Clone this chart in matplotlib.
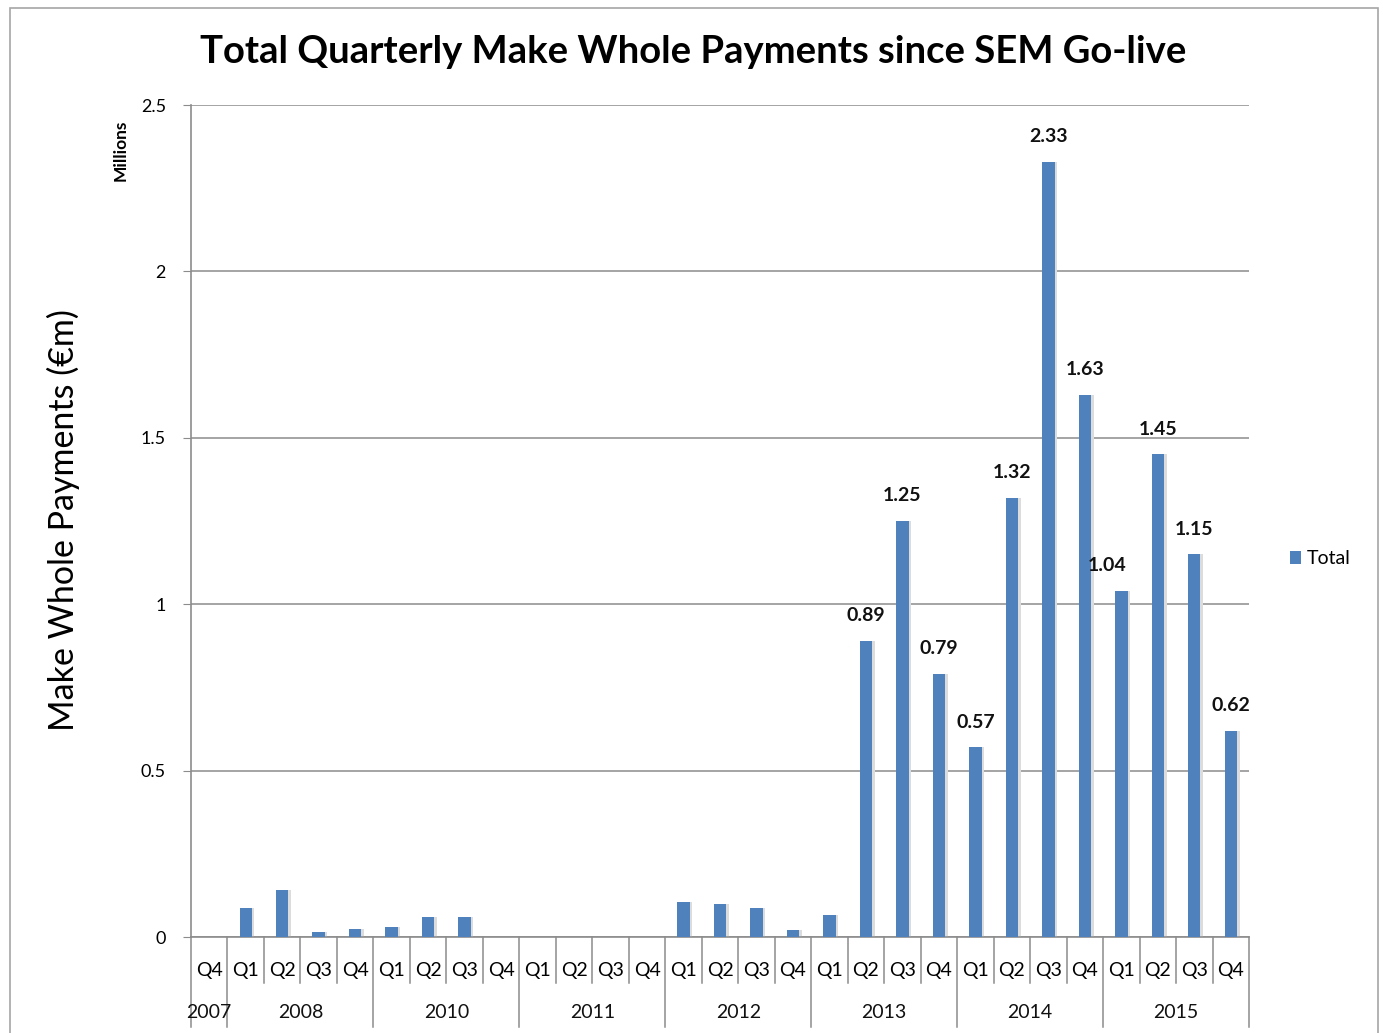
import matplotlib.pyplot as plt
from matplotlib.patches import Rectangle
import matplotlib.transforms as mtransforms

plt.rcParams['font.family'] = ['Lato', 'DejaVu Sans']

quarters = ['Q4',
            'Q1', 'Q2', 'Q3', 'Q4',
            'Q1', 'Q2', 'Q3', 'Q4',
            'Q1', 'Q2', 'Q3', 'Q4',
            'Q1', 'Q2', 'Q3', 'Q4',
            'Q1', 'Q2', 'Q3', 'Q4',
            'Q1', 'Q2', 'Q3', 'Q4',
            'Q1', 'Q2', 'Q3', 'Q4']
years = ['2007', '2008', '2010', '2011', '2012', '2013', '2014', '2015']
year_sizes = [1, 4, 4, 4, 4, 4, 4, 4]
payments = [0.0,
            0.088, 0.141, 0.014, 0.025,
            0.029, 0.061, 0.061, 0.0,
            0.0, 0.0, 0.0, 0.0,
            0.104, 0.099, 0.088, 0.020,
            0.067, 0.89, 1.25, 0.79,
            0.57, 1.32, 2.33, 1.63,
            1.04, 1.45, 1.15, 0.62]

W, H = 1383, 1033
fig = plt.figure(figsize=(W / 100, H / 100), dpi=100)
ax = fig.add_axes([191 / W, 1 - 937 / H, (1249 - 191) / W, (937 - 105) / H])

fig.patches.append(Rectangle((10 / W, -0.01), (1378 - 10) / W, 1 - 8 / H + 0.01,
                             transform=fig.transFigure, fill=False,
                             edgecolor='#a6a6a6', linewidth=1.2))

x = list(range(len(payments)))
ax.bar([i + 0.07 for i in x], payments, width=0.34, color='#dcdcdc', zorder=2)
bars = ax.bar(x, payments, width=0.34, color='#4f81bd', zorder=3)

for i, v in enumerate(payments):
    if v >= 0.5:
        dx = -10 if i == 25 else 0
        ax.annotate(f'{v:.2f}', (i, v), xytext=(dx, 12), textcoords='offset points',
                    ha='center', va='bottom', fontsize=14, fontweight='bold', color='#111111')

ax.set_xlim(-0.5, len(payments) - 0.5)
ax.set_ylim(0, 2.5)
ax.set_yticks([0, 0.5, 1, 1.5, 2, 2.5])
ax.set_yticklabels(['0', '0.5', '1', '1.5', '2', '2.5'])
ax.yaxis.grid(True, color='#8c8c8c', linewidth=1.1, zorder=0)
ax.set_axisbelow(True)
ax.tick_params(axis='y', length=6, color='#8c8c8c', labelsize=13, pad=12)
ax.set_xticks(x)
ax.set_xticklabels(quarters, fontsize=14)
ax.tick_params(axis='x', length=0, pad=18)
for s in ['top', 'right']:
    ax.spines[s].set_visible(False)
ax.spines['left'].set_color('#8c8c8c')
ax.spines['bottom'].set_color('#8c8c8c')
ax.spines['left'].set_linewidth(1.2)
ax.spines['bottom'].set_linewidth(1.2)

# category separators below the axis
trans = mtransforms.blended_transform_factory(ax.transData, ax.transAxes)
short = -46 / 832
long_ = -90 / 832
boundaries = []
pos = 0
for n in year_sizes:
    boundaries.append(pos - 0.5)
    pos += n
boundaries.append(pos - 0.5)
for b in range(len(payments) + 1):
    edge = b - 0.5
    yb = long_ if edge in boundaries else short
    ax.plot([edge, edge], [0, yb], transform=trans, color='#8c8c8c',
            linewidth=1.1, clip_on=False)

pos = 0
for yr, n in zip(years, year_sizes):
    ax.text(pos + (n - 1) / 2, -76 / 832, yr, transform=trans, ha='center',
            va='center', fontsize=14, color='#111111')
    pos += n

fig.text(693 / W, 1 - 52 / H, 'Total Quarterly Make Whole Payments since SEM Go-live',
         ha='center', va='center', fontsize=27.5, fontweight='bold')
fig.text(63 / W, 1 - 520 / H, 'Make Whole Payments (\u20acm)', rotation=90,
         ha='center', va='center', fontsize=24.5)
fig.text(121 / W, 1 - 150 / H, 'Millions', rotation=90, ha='center', va='center',
         fontsize=12.5, fontweight='bold')

leg = ax.legend([bars], ['Total'], loc='center left', frameon=False, fontsize=14,
                handlelength=0.6, handleheight=0.6, handletextpad=0.3,
                bbox_to_anchor=(1272 / W, 1 - 559 / H), bbox_transform=fig.transFigure)

fig.savefig('out.png', dpi=100)
